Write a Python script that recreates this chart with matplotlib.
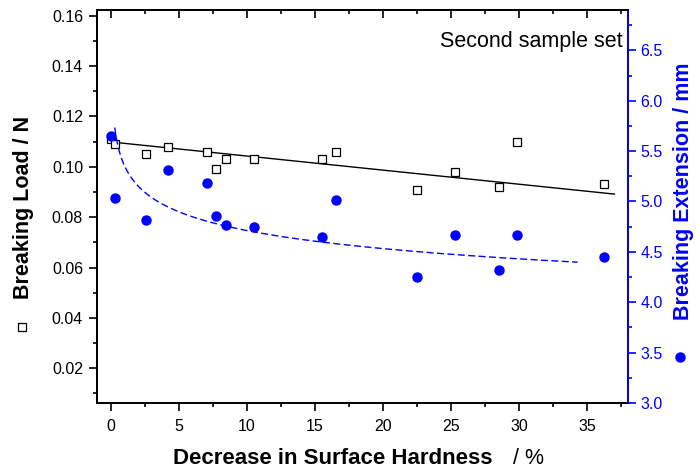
import numpy as np
import matplotlib
matplotlib.use("Agg")
import matplotlib.pyplot as plt
from matplotlib.lines import Line2D
from matplotlib.ticker import MultipleLocator, FormatStrFormatter

plt.rcParams['font.family'] = ['Liberation Sans', 'DejaVu Sans']

# Decrease in surface hardness (%) for each sample
hardness_drop = [0.0, 0.32, 2.57, 4.23, 7.05, 7.71, 8.44, 10.52, 15.49, 16.54,
                 22.47, 25.28, 28.51, 29.88, 36.22]
# Breaking load (N)
breaking_load = [0.111, 0.109, 0.105, 0.108, 0.106, 0.099, 0.103, 0.103, 0.103, 0.106,
                 0.091, 0.098, 0.092, 0.110, 0.093]
# Breaking extension (mm)
breaking_ext = [5.65, 5.03, 4.82, 5.31, 5.18, 4.86, 4.77, 4.75, 4.65, 5.01,
                4.25, 4.67, 4.32, 4.67, 4.45]

# Trend lines: linear for load, power law for extension
load_fit = (0.1099, -0.00056)      # intercept, slope
load_fit_range = (0.0, 37.0)
ext_fit = (5.36, -0.056)           # y = a * x**b
ext_fit_range = (0.3, 34.3)

BLUE = '#0000ff'
TICK_FS = 11.5

fig = plt.figure(figsize=(6.96, 4.70), dpi=100)
ax = fig.add_axes([97/696, 1-403/470, 531/696, 393/470])
ax2 = ax.twinx()

# Left axis: breaking load
ax.plot(hardness_drop, breaking_load, linestyle='none', marker='s', markersize=6,
        markerfacecolor='white', markeredgecolor='black', markeredgewidth=0.9, zorder=3)
xl = np.linspace(*load_fit_range, 50)
ax.plot(xl, load_fit[0] + load_fit[1]*xl, color='black', lw=1.0, zorder=2)

# Right axis: breaking extension
ax2.plot(hardness_drop, breaking_ext, linestyle='none', marker='o', markersize=6.5,
         markerfacecolor=BLUE, markeredgecolor=BLUE, zorder=3)
xe = np.linspace(*ext_fit_range, 300)
ax2.plot(xe, ext_fit[0]*xe**ext_fit[1], color=BLUE, lw=1.0, dashes=(5, 2.5), zorder=2)

ax.set_xlim(-1, 38)
ax.set_ylim(0.0062, 0.1623)
ax2.set_ylim(3.0, 6.90)

ax.xaxis.set_major_locator(MultipleLocator(5))
ax.xaxis.set_minor_locator(MultipleLocator(2.5))
ax.yaxis.set_major_locator(MultipleLocator(0.02))
ax.yaxis.set_minor_locator(MultipleLocator(0.01))
ax2.yaxis.set_major_locator(MultipleLocator(0.5))
ax2.yaxis.set_minor_locator(MultipleLocator(0.25))
ax.yaxis.set_major_formatter(FormatStrFormatter('%.2f'))
ax2.yaxis.set_major_formatter(FormatStrFormatter('%.1f'))

for sp in list(ax.spines.values()) + list(ax2.spines.values()):
    sp.set_linewidth(1.3)
ax2.spines['right'].set_color(BLUE)

ax.tick_params(axis='x', which='both', direction='out', top=False)
ax.tick_params(axis='x', which='major', length=6, width=1.2, labelsize=TICK_FS, pad=5.5)
ax.tick_params(axis='x', which='minor', length=3, width=1.2)
ax.tick_params(axis='y', which='major', length=6, width=1.2, labelsize=TICK_FS, pad=4)
ax.tick_params(axis='y', which='minor', length=3, width=1.2)

# Top axis: same ticks, pointing inward, no labels
top = ax.secondary_xaxis('top')
top.xaxis.set_major_locator(MultipleLocator(5))
top.xaxis.set_minor_locator(MultipleLocator(2.5))
top.tick_params(which='both', direction='in', labeltop=False, width=1.2)
top.tick_params(which='major', length=6)
top.tick_params(which='minor', length=3)
top.spines['top'].set_linewidth(1.3)

ax2.tick_params(axis='y', which='major', length=6, width=1.2, labelsize=TICK_FS, pad=3,
                colors=BLUE)
ax2.tick_params(axis='y', which='minor', length=3, width=1.2, colors=BLUE)

ax.text(0.9906, 0.905, 'Second sample set', transform=ax.transAxes,
        ha='right', va='baseline', fontsize=15.5)

# Axis titles
fig.text(173/696, 1-464/470, 'Decrease in Surface Hardness', fontsize=16,
         fontweight='bold', ha='left', va='baseline')
fig.text(513/696, 1-464/470, '/ %', fontsize=15.5, ha='left', va='baseline')
fig.text(24/696, 1-207/470, 'Breaking Load / N', fontsize=15.5, fontweight='bold',
         rotation=90, ha='center', va='center')
fig.text(683/696, 1-191.5/470, 'Breaking Extension / mm', fontsize=15.5,
         fontweight='bold', rotation=90, ha='center', va='center', color=BLUE)

# Series symbols next to the axis titles
fig.add_artist(Line2D([21.7/696], [1-326.7/470], transform=fig.transFigure,
                      marker='s', markersize=6, markerfacecolor='white',
                      markeredgecolor='black', markeredgewidth=0.9, linestyle='none'))
fig.add_artist(Line2D([680/696], [1-356.7/470], transform=fig.transFigure,
                      marker='o', markersize=6.5, markerfacecolor=BLUE,
                      markeredgecolor=BLUE, linestyle='none'))

fig.savefig('out.png', dpi=100)
